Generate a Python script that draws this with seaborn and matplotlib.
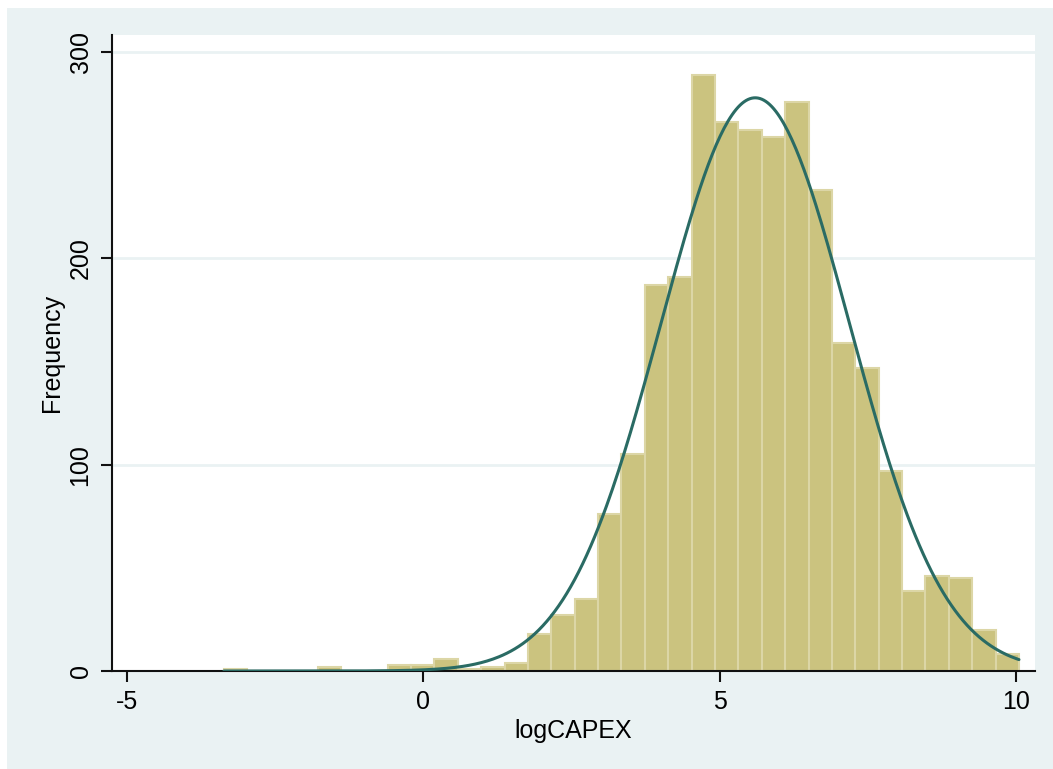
import numpy as np
import pandas as pd
import matplotlib
matplotlib.use("Agg")
import matplotlib.pyplot as plt
from matplotlib.patches import Rectangle
import seaborn as sns

# ---- data ----
x_min = -3.363
x_max = 10.05
n_bins = 34
counts = [1, 0, 0, 0, 2, 0, 0, 3, 3, 6, 1, 2, 4, 18, 27, 35, 76, 105,
          187, 191, 289, 266, 262, 259, 276, 233, 159, 147, 97, 39, 46, 45, 20, 8]
norm_mean = 5.6
norm_sd = 1.59
x_ticks = [-5, 0, 5, 10]
y_ticks = [0, 100, 200, 300]
x_label = "logCAPEX"
y_label = "Frequency"

edges = [float(e) for e in np.linspace(x_min, x_max, n_bins + 1)]
centers = [(a + b) / 2 for a, b in zip(edges[:-1], edges[1:])]
width = edges[1] - edges[0]
df = pd.DataFrame({"x": centers, "w": counts})

sns.set_theme(style="white")
plt.rcParams['font.family'] = ['Liberation Sans', 'DejaVu Sans']
plt.rcParams['text.color'] = 'black'
plt.rcParams['axes.labelcolor'] = 'black'
plt.rcParams['xtick.color'] = 'black'
plt.rcParams['ytick.color'] = 'black'

bg = "#EAF2F3"
fig = plt.figure(figsize=(10.53, 7.69), dpi=100, facecolor=bg)
# white strips at top and left edges
fig.patches.append(Rectangle((0, 1 - 8 / 769), 1, 8 / 769, transform=fig.transFigure,
                             facecolor="white", edgecolor="none", zorder=-1))
fig.patches.append(Rectangle((0, 0), 7 / 1053, 1, transform=fig.transFigure,
                             facecolor="white", edgecolor="none", zorder=-1))

ax = fig.add_axes([112 / 1053, 98 / 769, (1035 - 112) / 1053, (671 - 35) / 769])
ax.set_facecolor("white")

for yv in y_ticks[1:]:
    ax.axhline(yv, color=bg, lw=2, zorder=0)

sns.histplot(data=df, x="x", weights="w", bins=edges, ax=ax, stat="count",
             color="#CBC37F", edgecolor="#DCD6A6", linewidth=1.5, alpha=1, zorder=2)

xs = np.linspace(x_min, x_max, 400)
N = sum(counts)
ys = N * width * np.exp(-0.5 * ((xs - norm_mean) / norm_sd) ** 2) / (norm_sd * np.sqrt(2 * np.pi))
sns.lineplot(x=xs, y=ys, ax=ax, color="#2A6B64", lw=2.2, zorder=3)

ax.set_xlim((112 - 423.3) / 59.27, (1035 - 423.3) / 59.27)
ax.set_ylim(0, 636 / 2.063)
ax.set_xticks(x_ticks)
ax.set_yticks(y_ticks)
ax.set_xticklabels([str(v) for v in x_ticks], fontsize=18, color="black")
ax.set_yticklabels([str(v) for v in y_ticks], fontsize=18, rotation=90, va="center", color="black")
ax.tick_params(axis="both", direction="out", length=8, width=1.5, color="#111111",
               pad=6, left=True, bottom=True)
ax.set_xlabel(x_label, fontsize=18, labelpad=3, color="black")
ax.set_ylabel(y_label, fontsize=18, labelpad=3, color="black")

for s in ["top", "right"]:
    ax.spines[s].set_visible(False)
for s in ["left", "bottom"]:
    ax.spines[s].set_color("#111111")
    ax.spines[s].set_linewidth(1.5)

fig.savefig("out.png", dpi=100, facecolor=fig.get_facecolor())
